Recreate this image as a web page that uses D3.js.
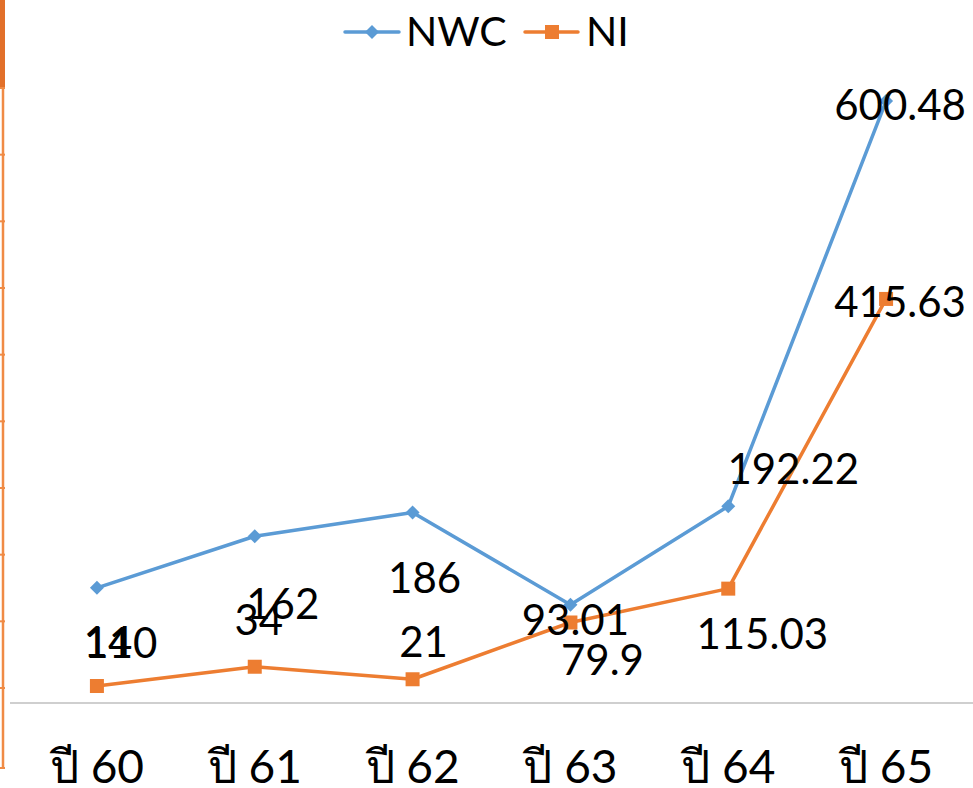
<!DOCTYPE html>
<html>
<head>
<meta charset="utf-8">
<script src="https://cdn.jsdelivr.net/npm/d3@7/dist/d3.min.js"></script>
<style>
  html, body { margin: 0; padding: 0; background: #fff; }
  svg { display: block; }
  text { font-family: Lato, "Noto Sans", "DejaVu Sans", sans-serif; fill: #000; }
</style>
</head>
<body>
<svg id="chart" width="973" height="788"></svg>
<script>
// ---- data ----
const categories = ["ปี 60", "ปี 61", "ปี 62", "ปี 63", "ปี 64", "ปี 65"];
const nwcValues = [110, 162, 186, 93.01, 192.22, 600.48];
const niValues = [14, 34, 21, 79.9, 115.03, 415.63];
const nwcLabels = ["110", "162", "186", "93.01", "192.22", "600.48"];
const niLabels = ["14", "34", "21", "79.9", "115.03", "415.63"];

// ---- layout config (label offsets relative to markers) ----
const nwcLabelOffsets = [[24, 70], [28, 83], [12, 81], [5, 30], [65, -22], [14, 19]];
const niLabelOffsets = [[11, -29], [4, -32], [11, -22], [32, 53], [34, 60], [14, 18]];

const svg = d3.select("#chart");
const blue = "#5B9BD5", orange = "#ED7D31";

const x = d3.scaleBand().domain(categories).range([18, 965]).padding(0);
const yNWC = d3.scaleLinear().domain([0, 600]).range([697, 101.6]);
const yNI = d3.scaleLinear().domain([0, 400]).range([699.5, 314]);
const cx = c => x(c) + x.bandwidth() / 2;

// decorative orange frame at left edge
const deco = svg.append("g");
deco.append("rect").attr("x", 0).attr("y", 0).attr("width", 5).attr("height", 88).attr("fill", "#E2702A");
deco.append("line").attr("x1", 3).attr("x2", 3).attr("y1", 88).attr("y2", 768)
  .attr("stroke", "#F08B45").attr("stroke-width", 2.5);
const decoScale = d3.scaleLinear().domain([0, 9]).range([88, 688]);
deco.selectAll("line.tk").data(d3.range(0, 10)).join("line").attr("class", "tk")
  .attr("x1", 0).attr("x2", 5).attr("y1", d => decoScale(d)).attr("y2", d => decoScale(d))
  .attr("stroke", "#F08B45").attr("stroke-width", 2);
deco.append("line").attr("x1", 0).attr("x2", 5).attr("y1", 768).attr("y2", 768)
  .attr("stroke", "#F08B45").attr("stroke-width", 2);

// x axis
const xAxis = svg.append("g").attr("transform", "translate(0,703)")
  .call(d3.axisBottom(x).tickSize(0).tickPadding(0));
xAxis.select(".domain").remove();
xAxis.append("line").attr("x1", 10).attr("x2", 973).attr("y1", 0).attr("y2", 0)
  .attr("stroke", "#BFBFBF").attr("stroke-width", 1.6);
xAxis.selectAll(".tick text")
  .attr("y", 80).attr("dy", 0)
  .style("font-size", "46px").style("fill", "#000")
  .style("font-family", 'Lato, "Noto Sans", "DejaVu Sans", sans-serif');

// lines
const lineNWC = d3.line().x((d, i) => cx(categories[i])).y(d => yNWC(d));
const lineNI = d3.line().x((d, i) => cx(categories[i])).y(d => yNI(d));

svg.append("path").datum(nwcValues).attr("d", lineNWC)
  .attr("fill", "none").attr("stroke", blue).attr("stroke-width", 3.5).attr("stroke-linejoin", "round");
svg.append("path").datum(niValues).attr("d", lineNI)
  .attr("fill", "none").attr("stroke", orange).attr("stroke-width", 3.5).attr("stroke-linejoin", "round");

// markers
const diamond = s => `M0,${-s}L${s},0L0,${s}L${-s},0Z`;
svg.selectAll("path.nwc-m").data(nwcValues).join("path").attr("class", "nwc-m")
  .attr("d", diamond(7))
  .attr("transform", (d, i) => `translate(${cx(categories[i])},${yNWC(d)})`)
  .attr("fill", blue);
svg.selectAll("rect.ni-m").data(niValues).join("rect").attr("class", "ni-m")
  .attr("x", (d, i) => cx(categories[i]) - 7).attr("y", d => yNI(d) - 7)
  .attr("width", 14).attr("height", 14).attr("fill", orange);

// data labels
svg.selectAll("text.nwc-l").data(nwcValues).join("text").attr("class", "nwc-l")
  .attr("x", (d, i) => cx(categories[i]) + nwcLabelOffsets[i][0])
  .attr("y", (d, i) => yNWC(d) + nwcLabelOffsets[i][1])
  .attr("text-anchor", "middle").style("font-size", "42px")
  .text((d, i) => nwcLabels[i]);
svg.selectAll("text.ni-l").data(niValues).join("text").attr("class", "ni-l")
  .attr("x", (d, i) => cx(categories[i]) + niLabelOffsets[i][0])
  .attr("y", (d, i) => yNI(d) + niLabelOffsets[i][1])
  .attr("text-anchor", "middle").style("font-size", "42px")
  .text((d, i) => niLabels[i]);

// legend
const lg = svg.append("g");
lg.append("line").attr("x1", 345).attr("x2", 399).attr("y1", 32).attr("y2", 32)
  .attr("stroke", blue).attr("stroke-width", 3.5).attr("stroke-linecap", "round");
lg.append("path").attr("d", diamond(7)).attr("transform", "translate(372,32)").attr("fill", blue);
lg.append("text").attr("x", 406).attr("y", 46).style("font-size", "41px").text("NWC");
lg.append("line").attr("x1", 525).attr("x2", 578).attr("y1", 32).attr("y2", 32)
  .attr("stroke", orange).attr("stroke-width", 3.5).attr("stroke-linecap", "round");
lg.append("rect").attr("x", 545).attr("y", 25).attr("width", 14).attr("height", 14).attr("fill", orange);
lg.append("text").attr("x", 586).attr("y", 46).style("font-size", "41px").text("NI");
</script>
</body>
</html>
